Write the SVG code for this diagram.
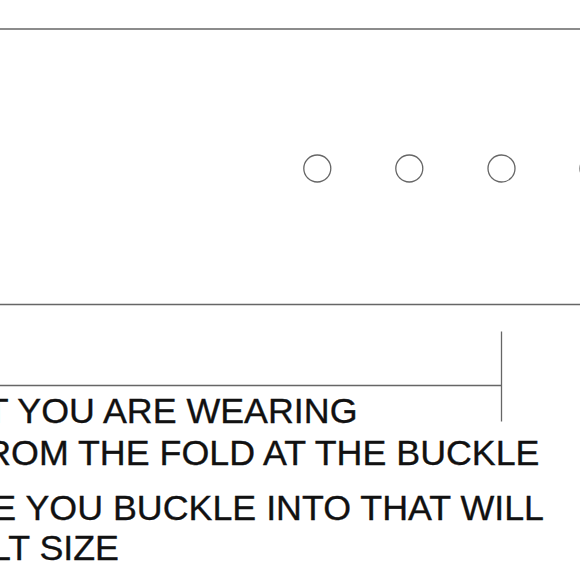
<svg xmlns="http://www.w3.org/2000/svg" width="580" height="580" viewBox="0 0 580 580">
<style>
.ln{stroke:#666;stroke-width:1.3;fill:none}
.hole{stroke:#666;stroke-width:1.3;fill:#fff}
.t{font-family:"Liberation Sans",Arial,sans-serif;font-size:35.8px;fill:#111;stroke:#111;stroke-width:0.35;text-anchor:end}
</style>
<rect width="580" height="580" fill="#fff"/>
<g id="strap">
<line class="ln" x1="0" y1="29" x2="580" y2="29"/>
<line class="ln" x1="0" y1="304.5" x2="580" y2="304.5"/>
</g>
<g id="holes">
<circle class="hole" cx="317.3" cy="168.5" r="13.5"/>
<circle class="hole" cx="409.3" cy="168.5" r="13.5"/>
<circle class="hole" cx="501.5" cy="168.5" r="13.5"/>
<circle class="hole" cx="593.5" cy="168.5" r="13.5"/>
</g>
<g id="dimension">
<line class="ln" x1="0" y1="385.5" x2="501.5" y2="385.5"/>
<line class="ln" x1="501.5" y1="331.5" x2="501.5" y2="421.5"/>
</g>
<g id="notes">
<text class="t" x="357.5" y="422.5">T YOU ARE WEARING</text>
<text class="t" x="539.5" y="465">ROM THE FOLD AT THE BUCKLE</text>
<text class="t" x="544" y="520">E YOU BUCKLE INTO THAT WILL</text>
<text class="t" x="119" y="560">LT SIZE</text>
</g>
</svg>
